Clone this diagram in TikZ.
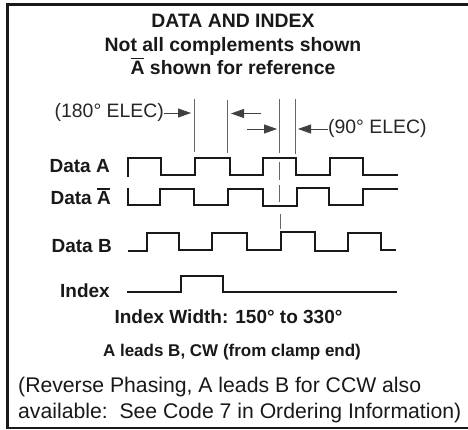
\documentclass[tikz,border=0pt]{standalone}
\usepackage{fontspec}
\setmainfont{Liberation Sans}
\usetikzlibrary{arrows.meta}
\tikzset{
  x=1pt,y=-1pt,
  frameline/.style={draw=black!90,line width=2.8pt},
  wave/.style={draw=black!90,line width=2pt,miter limit=10},
  guide/.style={draw=black!60,line width=0.9pt},
  dimarrow/.style={draw=black!75,line width=0.8pt,-{Triangle[length=13pt,width=9pt]}},
  lab/.style={inner sep=0pt,anchor=base east,font=\fontsize{19}{19}\selectfont\bfseries,text=black!90},
  ctr/.style={inner sep=0pt,anchor=base,text=black!90},
  note/.style={inner sep=0pt,anchor=base west,font=\fontsize{21.2}{21.2}\selectfont,text=black!90},
}
\newcommand{\overA}{\leavevmode\rlap{\raisebox{0.80em}{\rule{0.667em}{0.1em}}}A}
\begin{document}
\begin{tikzpicture}
\useasboundingbox (0,0) rectangle (468,430);
\fill[white] (0,0) rectangle (468,430);
\draw[frameline] (7.5,4.7) rectangle (475,428);
% titles
\node[ctr,font=\fontsize{19.4}{19.4}\selectfont\bfseries] (t1) at (233,28) {DATA AND INDEX};
\node[ctr,font=\fontsize{19.4}{19.4}\selectfont\bfseries] (t2) at (233,51.5) {Not all complements shown};
\node[ctr,font=\fontsize{19.4}{19.4}\selectfont\bfseries] (t3) at (233,75) {\overA{} shown for reference};
% guides
\coordinate (g1t) at (194,99);   \coordinate (g1b) at (194,152);
\coordinate (g2t) at (227.7,100);\coordinate (g2b) at (227.7,153);
\coordinate (g3t) at (279.7,99); \coordinate (g3b) at (279.7,153);
\coordinate (g4t) at (295.7,99); \coordinate (g4b) at (295.7,154);
\draw[guide] (g1t)--(g1b);
\draw[guide] (g2t)--(g2b);
\draw[guide] (g3t)--(g3b);
\draw[guide] (g4t)--(g4b);
\coordinate (d1t) at (279.7,161.7); \coordinate (d1b) at (279.7,180);
\coordinate (d2t) at (279.7,185);   \coordinate (d2b) at (279.7,201.7);
\coordinate (d3t) at (280.7,214);   \coordinate (d3b) at (280.7,229);
\draw[guide] (d1t)--(d1b);
\draw[guide] (d2t)--(d2b);
\draw[guide] (d3t)--(d3b);
% dimension labels and arrows
\node[inner sep=0pt,anchor=base east,font=\fontsize{19.4}{19.4}\selectfont,text=black!85] (e180) at (164,118) {(180° ELEC)};
\node[inner sep=0pt,anchor=base west,font=\fontsize{19.4}{19.4}\selectfont,text=black!85] (e90) at (328,134) {(90° ELEC)};
\coordinate (a1s) at (164,113);   \coordinate (a1e) at (191,113);
\coordinate (a2s) at (261,113.5); \coordinate (a2e) at (231,113.5);
\coordinate (a3s) at (247,129);   \coordinate (a3e) at (277,129);
\coordinate (a4s) at (328,129);   \coordinate (a4e) at (298,129);
\draw[dimarrow] (a1s)--(a1e);
\draw[dimarrow] (a2s)--(a2e);
\draw[dimarrow] (a3s)--(a3e);
\draw[dimarrow] (a4s)--(a4e);
% signal labels
\node[lab] (la) at (110,173) {Data A};
\node[lab] (lb) at (111,205) {Data \overA};
\node[lab] (lc) at (112,252) {Data B};
\node[lab] (ld) at (110,297) {Index};
% waveforms
\draw[wave] (128,177)--(128,158)--(161,158)--(161,175)--(194.5,175)--(194.5,158)--(230,158)--(230,175)--(262.5,175)--(262.5,157.7)--(296,157.7)--(296,175.5)--(330,175.5)--(330,158)--(363,158)--(363,175)--(398,175);
\draw[wave] (128,188)--(128,205)--(160,205)--(160,189)--(193.5,189)--(193.5,205)--(228,205)--(228,189)--(263,189)--(263,206)--(297,206)--(297,188.5)--(329,188.5)--(329,205.5)--(363,205.5)--(363,189)--(398,189);
\draw[wave] (128,250.7)--(146.5,250.7)--(146.5,233)--(179,233)--(179,250)--(212,250)--(212,233)--(246.7,233)--(246.7,250)--(281,250)--(281,232.5)--(315,232.5)--(315,251)--(347.7,251)--(347.7,233)--(381,233)--(381,250)--(396,250);
\draw[wave] (127,292)--(180.5,292)--(180.5,276)--(222.5,276)--(222.5,292)--(397,292);
% captions
\node[ctr,font=\fontsize{19}{19}\selectfont\bfseries] (c1) at (228.5,323) {Index Width: 150° to 330°};
\node[ctr,font=\fontsize{17}{17}\selectfont\bfseries] (c2) at (232,356) {A leads B, CW (from clamp end)};
\node[note] (n1) at (18,392) {(Reverse Phasing, A leads B for CCW also};
\node[note] (n2) at (18,418) {available:\ \ See Code 7 in Ordering Information)};
\end{tikzpicture}
\end{document}
